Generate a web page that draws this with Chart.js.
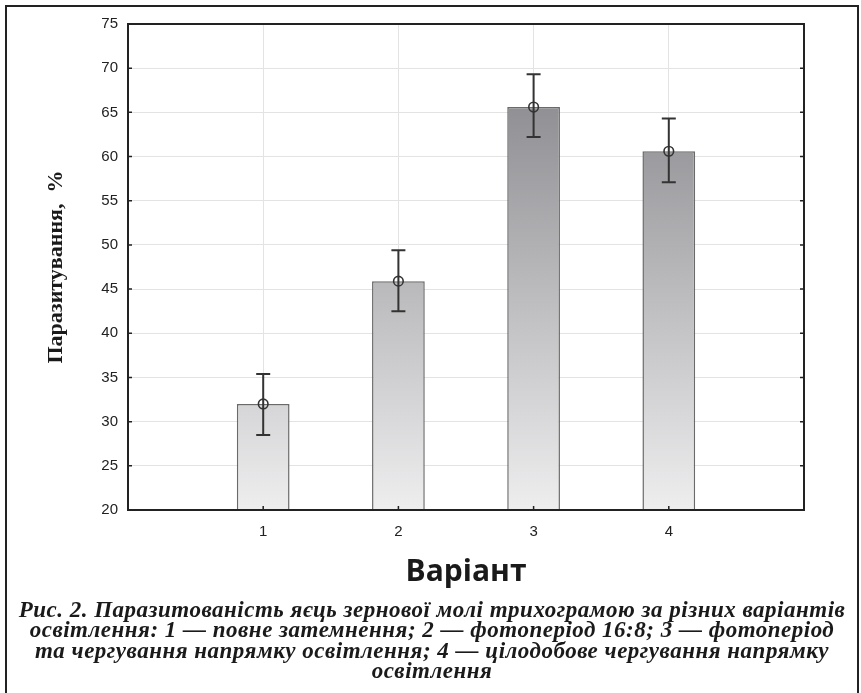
<!DOCTYPE html>
<html>
<head>
<meta charset="utf-8">
<script src="https://cdn.jsdelivr.net/npm/chart.js@4"></script>
<style>
  html, body { margin: 0; padding: 0; background: #fff; }
  #wrap { position: relative; width: 861px; height: 693px; overflow: hidden; }
  #frame { position: absolute; left: 5px; top: 5px; width: 854px; height: 720px; border: 2px solid #222; box-sizing: border-box; }
  #box { position: absolute; left: 0; top: 0; width: 861px; height: 693px; }
  #caption {
    position: absolute; left: 5px; top: 600px; width: 854px;
    text-align: center; font-family: "Liberation Serif", serif; font-weight: bold; font-style: italic;
    font-size: 23px; letter-spacing: 0.5px; line-height: 20.4px; color: #1a1a1a;
  }
</style>
</head>
<body>
<div id="wrap">
  <div id="frame"></div>
  <div id="box"><canvas id="chart"></canvas></div>
  <div id="caption">Рис. 2. Паразитованість яєць зернової молі трихограмою за різних варіантів<br>освітлення: 1 — повне затемнення; 2 — фотоперіод 16:8; 3 — фотоперіод<br>та чергування напрямку освітлення; 4 — цілодобове чергування напрямку<br>освітлення</div>
</div>
<script>
// Variants and parasitism (%), mean with error limits
const variants = [1, 2, 3, 4]
const means = [32.0, 45.9, 65.6, 60.6]
const upper = [35.4, 49.4, 69.3, 64.3]
const lower = [28.5, 42.5, 62.2, 57.1]
const yTicks = [20, 25, 30, 35, 40, 45, 50, 55, 60, 65, 70, 75]

const barFill = (context) => {
  const { chartArea, ctx } = context.chart
  if (!chartArea) return '#bbb'
  const g = ctx.createLinearGradient(0, chartArea.top, 0, chartArea.bottom)
  g.addColorStop(0, '#7d7d82')
  g.addColorStop(1, '#eeeeef')
  return g
}

// frame, inward ticks and error bars
const extras = {
  id: 'extras',
  afterDatasetsDraw(chart) {
    const { ctx, scales: { x, y } } = chart
    ctx.save()
    ctx.strokeStyle = '#333'
    ctx.lineWidth = 2
    variants.forEach((v, i) => {
      const px = x.getPixelForValue(v)
      const yt = y.getPixelForValue(upper[i])
      const yb = y.getPixelForValue(lower[i])
      const ym = y.getPixelForValue(means[i])
      ctx.beginPath()
      ctx.moveTo(px, yt); ctx.lineTo(px, yb)
      ctx.moveTo(px - 7, yt); ctx.lineTo(px + 7, yt)
      ctx.moveTo(px - 7, yb); ctx.lineTo(px + 7, yb)
      ctx.stroke()
      ctx.beginPath()
      ctx.lineWidth = 1.6
      ctx.arc(px, ym, 4.8, 0, Math.PI * 2)
      ctx.stroke()
      ctx.lineWidth = 2
    })
    ctx.restore()
  },
  afterDraw(chart) {
    const { ctx, chartArea: a, scales: { x, y } } = chart
    ctx.save()
    ctx.strokeStyle = '#222'
    ctx.lineWidth = 2
    ctx.strokeRect(a.left, a.top, a.right - a.left, a.bottom - a.top)
    ctx.lineWidth = 1.5
    ctx.beginPath()
    yTicks.forEach(v => {
      const py = y.getPixelForValue(v)
      ctx.moveTo(a.left, py); ctx.lineTo(a.left + 4, py)
      ctx.moveTo(a.right, py); ctx.lineTo(a.right - 4, py)
    })
    variants.forEach(v => {
      const px = x.getPixelForValue(v)
      ctx.moveTo(px, a.bottom); ctx.lineTo(px, a.bottom - 4)
    })
    ctx.stroke()
    ctx.restore()
  }
}

new Chart(document.getElementById('chart'), {
  type: 'bar',
  data: {
    datasets: [{
      data: variants.map((v, i) => ({ x: v, y: means[i] })),
      backgroundColor: barFill,
      borderColor: '#6a6a6a',
      borderWidth: 1.5,
      borderSkipped: 'bottom',
      barPercentage: 0.39,
      categoryPercentage: 1
    }]
  },
  options: {
    responsive: true,
    maintainAspectRatio: false,
    animation: false,
    layout: { padding: { left: 8, top: 24, right: 57, bottom: 103 } },
    plugins: { legend: { display: false }, tooltip: { enabled: false } },
    scales: {
      x: {
        type: 'linear',
        min: 0,
        max: 5,
        offset: false,
        afterBuildTicks: s => { s.ticks = variants.map(v => ({ value: v })) },
        afterFit: s => { s.height = 80 },
        grid: { color: '#e3e3e3', drawTicks: false, offset: false },
        border: { display: false },
        ticks: { padding: 13, color: '#222', font: { family: 'Liberation Sans', size: 15 } },
        title: {
          display: true, text: 'Варіант', color: '#1a1a1a',
          font: { family: 'Open Sans', size: 30, weight: 'bold' },
          padding: { top: 0, bottom: 0 }
        }
      },
      y: {
        min: 20,
        max: 75,
        afterBuildTicks: s => { s.ticks = yTicks.map(v => ({ value: v })) },
        afterFit: s => { s.width = 120 },
        grid: { color: '#e3e3e3', drawTicks: false },
        border: { display: false },
        ticks: { padding: 10, color: '#222', font: { family: 'Liberation Sans', size: 15 } },
        title: {
          display: true, text: 'Паразитування,  %', color: '#1a1a1a',
          font: { family: 'Liberation Serif', size: 22, weight: 'bold' },
          padding: { top: 35, bottom: 0 }
        }
      }
    }
  },
  plugins: [extras]
})
</script>
</body>
</html>
